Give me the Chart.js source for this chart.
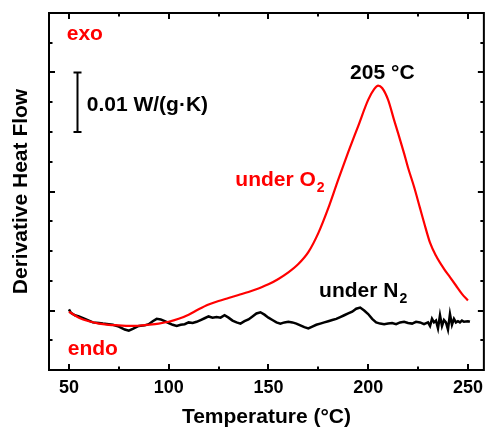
<!DOCTYPE html>
<html>
<head>
<meta charset="utf-8">
<script src="https://cdn.jsdelivr.net/npm/chart.js@4.4.0/dist/chart.umd.min.js"></script>
<style>
  html, body { margin: 0; padding: 0; background: #fff; }
  #wrap { width: 490px; height: 428px; }
</style>
</head>
<body>
<div id="wrap"><canvas id="dtg" width="490" height="428"></canvas></div>
<script>
// under O2 (red)
const o2Temp = [50, 55, 60, 65, 70, 75, 80, 85, 90, 95, 100, 105, 110, 115, 120, 125, 130, 135, 140, 145,
  150, 155, 160, 165, 170, 175, 180, 185, 190, 195, 200, 203, 205, 207, 210, 213, 215, 218, 220, 223,
  226, 228, 231, 234, 238, 241, 244, 247, 250];
const o2Flow = [-0.01, -0.06, -0.09, -0.11, -0.12, -0.125, -0.13, -0.128, -0.12, -0.11, -0.095, -0.07, -0.035, 0.01, 0.05, 0.08, 0.105, 0.13, 0.155, 0.185,
  0.22, 0.265, 0.32, 0.39, 0.49, 0.65, 0.86, 1.10, 1.33, 1.55, 1.77, 1.86, 1.89, 1.87, 1.77, 1.60, 1.49, 1.32, 1.20, 1.04,
  0.86, 0.74, 0.57, 0.46, 0.35, 0.28, 0.21, 0.14, 0.085];

// under N2 (black)
const n2Temp = [50, 51, 53, 55, 58, 60, 62, 65, 67, 70, 72, 75, 78, 80, 82, 85, 88, 90, 92, 94,
  96, 98, 100, 102, 104, 106, 108, 110, 112, 114, 116, 118, 120, 122, 124, 126, 128, 130, 132, 134,
  136, 138, 140, 142, 144, 146, 148, 150, 152, 154, 156, 158, 160, 162, 164, 166, 168, 170, 172, 174,
  176, 178, 180, 182, 184, 186, 188, 190, 192, 194, 196, 198, 200, 202, 204, 206, 208, 210, 212, 214,
  216, 218, 220, 222, 224, 226, 228, 230, 231, 232, 233, 234, 235, 236, 237, 238, 239, 240, 241, 242,
  243, 244, 245, 246, 247, 248, 250, 251];
const n2Flow = [0.01, -0.02, -0.04, -0.05, -0.07, -0.085, -0.1, -0.105, -0.11, -0.115, -0.12, -0.135, -0.16, -0.17, -0.155, -0.13, -0.125, -0.115, -0.09, -0.07,
  -0.075, -0.09, -0.105, -0.12, -0.13, -0.12, -0.115, -0.1, -0.105, -0.095, -0.08, -0.065, -0.05, -0.06, -0.055, -0.06, -0.04, -0.06, -0.085, -0.1,
  -0.11, -0.09, -0.075, -0.05, -0.025, -0.015, -0.035, -0.06, -0.08, -0.1, -0.11, -0.1, -0.095, -0.1, -0.11, -0.125, -0.14, -0.15, -0.135, -0.12,
  -0.11, -0.1, -0.09, -0.08, -0.07, -0.055, -0.04, -0.025, -0.01, 0.015, 0.025, 0.0, -0.03, -0.07, -0.1, -0.11, -0.115, -0.11, -0.105, -0.115,
  -0.1, -0.095, -0.105, -0.11, -0.095, -0.1, -0.115, -0.1, -0.13, -0.07, -0.1, -0.085, -0.15, -0.04, -0.13, -0.08, -0.1, -0.16, -0.03, -0.12,
  -0.07, -0.1, -0.09, -0.1, -0.085, -0.095, -0.09, -0.095];

const xTickValues = [50, 100, 150, 200, 250];
const xMinorTicks = [75, 125, 175, 225];
const yMajorTicks = [0, 1, 2];
const yMinorTicks = [-0.25, 0.25, 0.5, 0.75, 1.25, 1.5, 1.75, 2.25];

const FONT = '"Liberation Sans", Arial, sans-serif';
Chart.defaults.font.family = FONT;
Chart.defaults.color = '#000';

// box around plot with inward ticks on all four sides
const framePlugin = {
  id: 'frame',
  afterDraw(chart) {
    const { ctx, chartArea: a, scales: { x, y } } = chart;
    ctx.save();
    ctx.strokeStyle = '#000';
    ctx.lineWidth = 2;
    ctx.strokeRect(a.left, a.top, a.right - a.left, a.bottom - a.top);
    ctx.beginPath();
    const xt = (v, len) => {
      const px = Math.round(x.getPixelForValue(v));
      ctx.moveTo(px, a.bottom); ctx.lineTo(px, a.bottom - len);
      ctx.moveTo(px, a.top); ctx.lineTo(px, a.top + len);
    };
    const yt = (v, len) => {
      const py = Math.round(y.getPixelForValue(v));
      ctx.moveTo(a.left, py); ctx.lineTo(a.left + len, py);
      ctx.moveTo(a.right, py); ctx.lineTo(a.right - len, py);
    };
    xTickValues.forEach(v => xt(v, 6));
    xMinorTicks.forEach(v => xt(v, 3.5));
    yMajorTicks.forEach(v => yt(v, 6));
    yMinorTicks.forEach(v => yt(v, 3.5));
    ctx.stroke();
    ctx.restore();
  }
};

// text labels and scale bar
const notesPlugin = {
  id: 'notes',
  afterDatasetsDraw(chart) {
    const { ctx, scales: { x, y } } = chart;
    const px = v => x.getPixelForValue(v);
    const py = v => y.getPixelForValue(v);
    ctx.save();
    ctx.textBaseline = 'alphabetic';
    const txt = (s, t, v, color, align, size) => {
      ctx.font = 'bold ' + (size || 21) + 'px ' + FONT;
      ctx.fillStyle = color;
      ctx.textAlign = align || 'left';
      ctx.fillText(s, px(t), py(v));
      return ctx.measureText(s).width;
    };
    const withSub = (s, sub, t, v, color) => {
      const w = txt(s, t, v, color);
      ctx.font = 'bold 14px ' + FONT;
      ctx.textAlign = 'left';
      ctx.fillText(sub, px(t) + w + 1, py(v) + 6);
    };
    txt('exo', 48.9, 2.271, '#ff0000');
    txt('endo', 49.4, -0.374, '#ff0000');
    txt('0.01 W/(g\u00b7K)', 58.9, 1.675, '#000');
    txt('205 \u00b0C', 207.1, 1.943, '#000', 'center');
    withSub('under O', '2', 133.4, 1.045, '#ff0000');
    withSub('under N', '2', 175.4, 0.115, '#000');

    // 0.01 W/(g K) bar
    const bx = Math.round(px(54.05)) + 0.5;
    const top = py(2), bot = py(1.5);
    ctx.strokeStyle = '#000';
    ctx.lineWidth = 2;
    ctx.beginPath();
    ctx.moveTo(bx, top); ctx.lineTo(bx, bot);
    ctx.moveTo(bx - 4, top); ctx.lineTo(bx + 4, top);
    ctx.moveTo(bx - 4, bot); ctx.lineTo(bx + 4, bot);
    ctx.stroke();
    ctx.restore();
  }
};

const toPoints = (xs, ys) => xs.map((t, i) => ({ x: t, y: ys[i] }));

const dtgChart = new Chart(document.getElementById('dtg').getContext('2d'), {
  type: 'line',
  plugins: [framePlugin, notesPlugin],
  data: {
    datasets: [{
      label: 'under O2',
      data: toPoints(o2Temp, o2Flow),
      borderColor: '#ff0000',
      borderWidth: 2.2,
      pointRadius: 0,
      cubicInterpolationMode: 'monotone'
    }, {
      label: 'under N2',
      data: toPoints(n2Temp, n2Flow),
      borderColor: '#000',
      borderWidth: 2.5,
      pointRadius: 0,
      tension: 0
    }]
  },
  options: {
    responsive: false,
    animation: false,
    layout: { padding: { top: 13, right: 2, left: 0, bottom: 0 } },
    plugins: {
      legend: { display: false },
      tooltip: { enabled: false }
    },
    scales: {
      x: {
        type: 'linear',
        min: 40,
        max: 258,
        afterFit: s => { s.height = 58; },
        afterBuildTicks: s => { s.ticks = xTickValues.map(v => ({ value: v })); },
        grid: { display: false, drawTicks: false },
        border: { display: false },
        ticks: { padding: 7, font: { size: 18, weight: 'bold' }, color: '#000', maxRotation: 0 },
        title: {
          display: true,
          text: 'Temperature (\u00b0C)',
          font: { size: 21, weight: 'bold', lineHeight: 1 },
          color: '#000',
          padding: { top: -3, bottom: 0 }
        }
      },
      y: {
        type: 'linear',
        min: -0.5,
        max: 2.5,
        afterFit: s => { s.width = 49; },
        grid: { display: false, drawTicks: false },
        border: { display: false },
        ticks: { display: false },
        title: {
          display: true,
          text: 'Derivative Heat Flow',
          font: { size: 21, weight: 'bold', lineHeight: 1.2 },
          color: '#000',
          padding: { top: 9, bottom: 0 }
        }
      }
    }
  }
});
</script>
</body>
</html>
